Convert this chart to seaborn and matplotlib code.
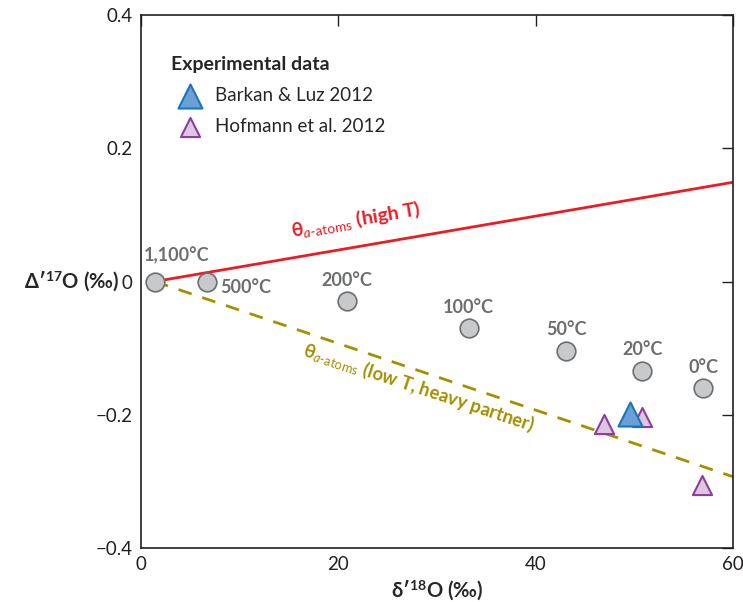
import matplotlib
matplotlib.use("Agg")
import matplotlib.pyplot as plt
import seaborn as sns
import pandas as pd
import numpy as np

sns.set_theme(style="white")
plt.rcParams['font.family'] = ['Lato', 'DejaVu Sans']
plt.rcParams['mathtext.fontset'] = 'custom'
plt.rcParams['mathtext.rm'] = 'Lato'
plt.rcParams['mathtext.it'] = 'Lato:italic'
plt.rcParams['mathtext.bf'] = 'Lato:bold'

# equilibrium points (theory)
temp_labels = ["1,100°C", "500°C", "200°C", "100°C", "50°C", "20°C", "0°C"]
eq_d18 = [1.4, 6.7, 20.9, 33.2, 43.1, 50.8, 57.0]
eq_D17 = [0.0, 0.0, -0.029, -0.070, -0.104, -0.134, -0.160]

# experimental data
barkan_d18 = [49.6]
barkan_D17 = [-0.199]
hofmann_d18 = [46.9, 50.8, 56.9]
hofmann_D17 = [-0.214, -0.203, -0.306]

# theta lines (end points)
high_x = [1.4, 60]
high_y = [0.0, 0.149]
low_x = [1.4, 60]
low_y = [0.0, -0.293]

gray_txt = "#6d6e70"

fig, ax = plt.subplots(figsize=(7.43, 6.02), dpi=100)
fig.subplots_adjust(left=0.1898, right=0.9865, bottom=0.0897, top=0.975)

sns.lineplot(x=high_x, y=high_y, ax=ax, color="#ed1c24", lw=2, zorder=2)
sns.lineplot(x=low_x, y=low_y, ax=ax, color="#a58f00", lw=2, zorder=2)
ax.lines[-1].set_dashes([5, 4])

sns.scatterplot(x=eq_d18, y=eq_D17, ax=ax, s=180, color="#c8c9cb",
                edgecolor="#6d6e70", linewidth=1.2, zorder=3)
sns.scatterplot(x=hofmann_d18, y=hofmann_D17, ax=ax, marker="^", s=190,
                color="#dcc6e2", edgecolor="#8e3d9b", linewidth=1.5, zorder=4,
                label="Hofmann et al. 2012")
sns.scatterplot(x=barkan_d18, y=barkan_D17, ax=ax, marker="^", s=300,
                color="#6a9fd8", edgecolor="#1a75bb", linewidth=1.5, zorder=5,
                label="Barkan & Luz 2012")

offsets = [(16, 19), (28, -4), (0, 15), (0, 15), (0, 15), (0, 15), (0, 15)]
for lab, x, y, off in zip(temp_labels, eq_d18, eq_D17, offsets):
    ax.annotate(lab, (x, y), xytext=off, textcoords="offset points",
                ha="center", va="center", fontsize=13, fontweight="bold",
                color=gray_txt)

ax.text(21.8, 0.093, r"θ$_{\mathit{a}\mathrm{\text{-}atoms}}$ (high T)", color="#ed1c24",
        fontsize=14, fontweight="bold", rotation=9.8, ha="center", va="center")
ax.text(28.2, -0.159, r"θ$_{\mathit{a}\mathrm{\text{-}atoms}}$ (low T, heavy partner)",
        color="#a58f00", fontsize=13.3, fontweight="bold", rotation=-18.3,
        ha="center", va="center")

handles, labels = ax.get_legend_handles_labels()
leg = ax.legend(handles[::-1], labels[::-1], title="Experimental data",
                loc="upper left", bbox_to_anchor=(0.038, 0.937), frameon=False,
                fontsize=13.5, handletextpad=0.35, labelspacing=0.75,
                borderaxespad=0)
leg.get_title().set_fontweight("bold")
leg.get_title().set_fontsize(14)
leg._legend_box.align = "left"

ax.set_xlim(0, 60)
ax.set_ylim(-0.4, 0.4)
ax.set_xticks([0, 20, 40, 60])
ax.set_yticks([-0.4, -0.2, 0, 0.2, 0.4])
ax.set_xticklabels(["0", "20", "40", "60"])
ax.set_yticklabels(["\u22120.4", "\u22120.2", "0", "0.2", "0.4"])
ax.tick_params(direction="in", length=8, width=1, top=True, right=True,
               labelsize=13.5, colors="#231f20", pad=6)
for sp in ax.spines.values():
    sp.set_visible(True)
    sp.set_color("#231f20")
    sp.set_linewidth(1.2)

ax.set_xlabel(r"δ′$^{\mathbf{18}}$O (‰)", fontsize=14.5, fontweight="bold", labelpad=4)
ax.set_ylabel(r"Δ′$^{\mathbf{17}}$O (‰)", fontsize=14.5, fontweight="bold",
              rotation=0, ha="center", va="center")
ax.yaxis.set_label_coords(-0.118, 0.5)

fig.savefig("out.png", dpi=100)
